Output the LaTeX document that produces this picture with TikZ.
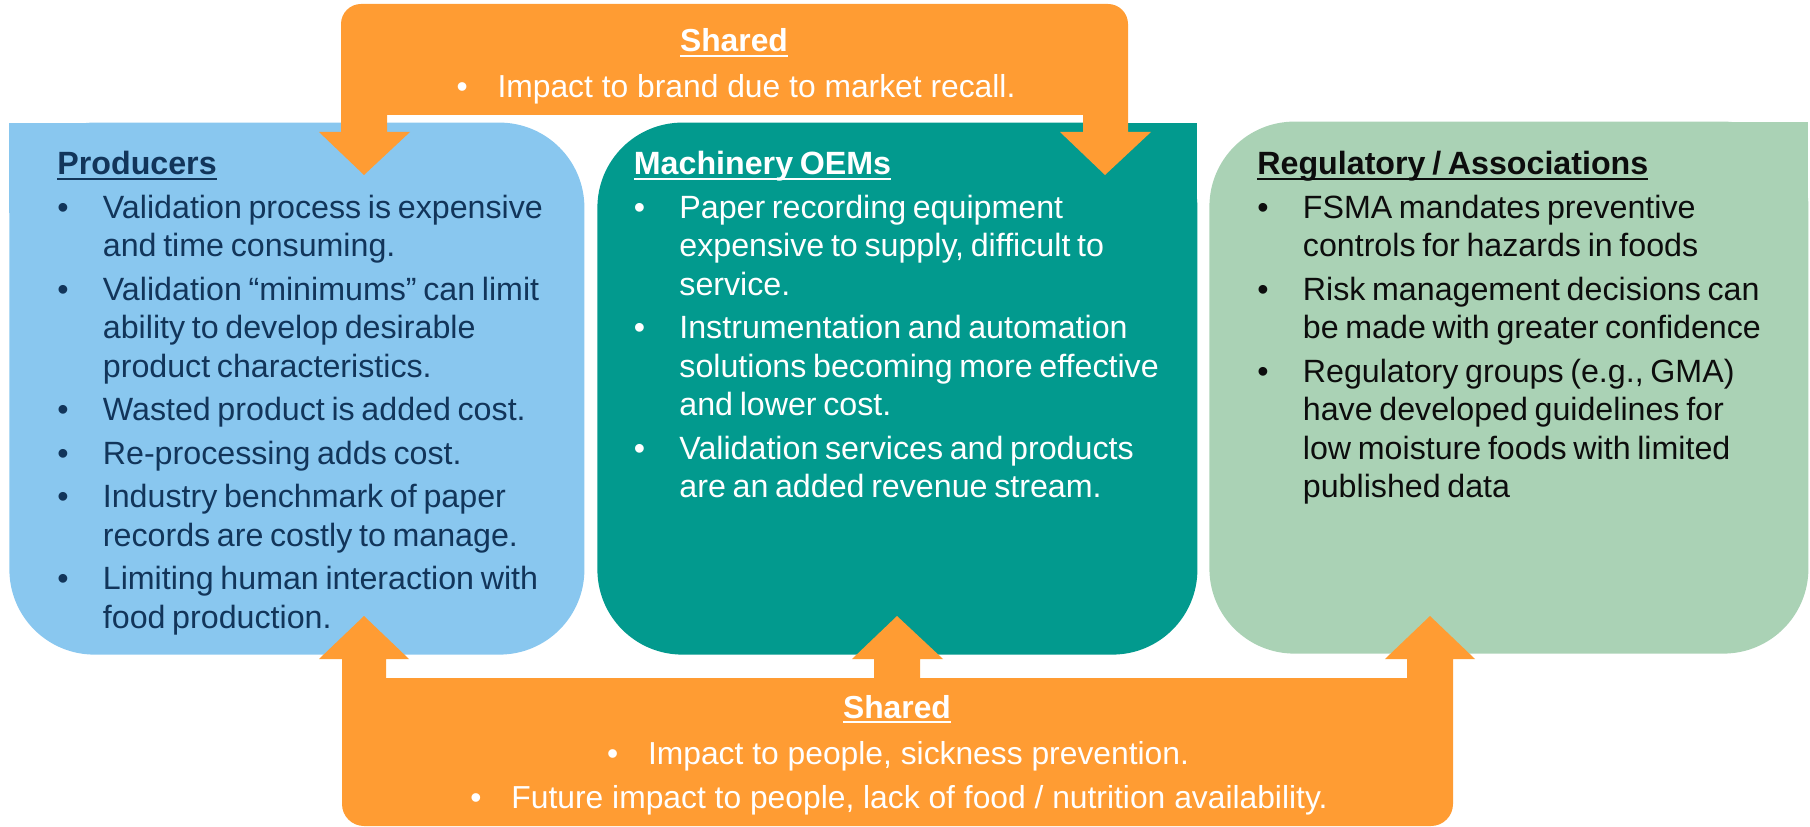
\documentclass[tikz,border=0pt]{standalone}
\usepackage{fontspec}
\setmainfont{Liberation Sans}
\definecolor{orng}{HTML}{FF9C33}
\definecolor{pblue}{HTML}{89C7EF}
\definecolor{pteal}{HTML}{029A8E}
\definecolor{pgreen}{HTML}{AAD2B5}
\definecolor{navy}{HTML}{12355A}
\definecolor{ink}{HTML}{0D0D0D}
\newcommand{\hd}[1]{\setbox0\hbox{\bfseries #1}\rlap{\vrule width\wd0 height -1.3pt depth 2.7pt}\box0}
\newcommand{\bitem}[1]{\par\hangindent=22.75pt\hangafter=1\noindent\makebox[22.75pt][l]{\textbullet}#1}
\newcommand{\boxfont}{\fontsize{16.1pt}{19.25pt}\selectfont\parskip=2.5pt\relax}
\tikzset{
  box/.style={rectangle, rounded corners=42.5pt, inner sep=0pt, draw=none, anchor=south west, minimum height=266pt},
  btext/.style={anchor=base west, inner sep=0pt, text width=310pt, align=left},
  otext/.style={anchor=base, inner sep=0pt, text=white, font=\fontsize{15.9pt}{19pt}\selectfont}
}
\begin{document}
\begin{tikzpicture}[x=0.5pt,y=0.5pt]
\useasboundingbox (0,0) rectangle (1810,826);
% stakeholder boxes
\fill[pblue] (9,613) rectangle (100,703);
\node[box, fill=pblue, minimum width=287.5pt] (prod) at (9,171) {};
\fill[pteal] (1106,613) rectangle (1197,703);
\node[box, fill=pteal, minimum width=300pt] (oem) at (597,171) {};
\fill[pgreen] (1717,614) rectangle (1808,704);
\node[box, fill=pgreen, minimum width=299.5pt] (reg) at (1209,172) {};
% texts
\node[btext, text=navy] (prodtxt) at (57,651) {\boxfont\hd{Producers}
\bitem{Validation process is expensive\newline and time consuming.}
\bitem{Validation “minimums” can limit\newline ability to develop desirable\newline product characteristics.}
\bitem{Wasted product is added cost.}
\bitem{Re-processing adds cost.}
\bitem{Industry benchmark of paper\newline records are costly to manage.}
\bitem{Limiting human interaction with\newline food production.}\par};
\node[btext, text=white] (oemtxt) at (633.5,651) {\boxfont\hd{Machinery OEMs}
\bitem{Paper recording equipment\newline expensive to supply, difficult to\newline service.}
\bitem{Instrumentation and automation\newline solutions becoming more effective\newline and lower cost.}
\bitem{Validation services and products\newline are an added revenue stream.}\par};
\node[btext, text=ink] (regtxt) at (1257,651) {\boxfont\hd{Regulatory / Associations}
\bitem{FSMA mandates preventive\newline controls for hazards in foods}
\bitem{Risk management decisions can\newline be made with greater confidence}
\bitem{Regulatory groups (e.g., GMA)\newline have developed guidelines for\newline low moisture foods with limited\newline published data}\par};
% top shared arrow
\fill[orng] (341,694) -- (341,802) arc[start angle=180,end angle=90,radius=20] -- (1108,822) arc[start angle=90,end angle=0,radius=20] -- (1128,694) -- (1151,694) -- (1105,651) -- (1060,694) -- (1083,694) -- (1083,711) -- (387,711) -- (387,694) -- (410,694) -- (364,651) -- (319,694) -- cycle;
% bottom shared arrow
\fill[orng] (342,167) -- (319,167) -- (364,210) -- (409,167) -- (386,167) -- (386,148) -- (874,148) -- (874,167) -- (852,167) -- (897,210) -- (943,167) -- (920,167) -- (920,148) -- (1407,148) -- (1407,167) -- (1385,167) -- (1430,210) -- (1475,167) -- (1453,167) -- (1453,22) arc[start angle=0,end angle=-90,radius=22] -- (364,0) arc[start angle=270,end angle=180,radius=22] -- cycle;
% shared texts
\node[otext] (sh1) at (734,774) {\hd{Shared}};
\node[otext] (sh1a) at (736,728) {\makebox[20.5pt][l]{\textbullet}Impact to brand due to market recall.};
\node[otext] (sh2) at (897,108) {\hd{Shared}};
\node[otext] (sh2a) at (898,62) {\makebox[20.5pt][l]{\textbullet}Impact to people, sickness prevention.};
\node[otext] (sh2b) at (899,18) {\makebox[20.5pt][l]{\textbullet}Future impact to people, lack of food / nutrition availability.};
\end{tikzpicture}
\end{document}
